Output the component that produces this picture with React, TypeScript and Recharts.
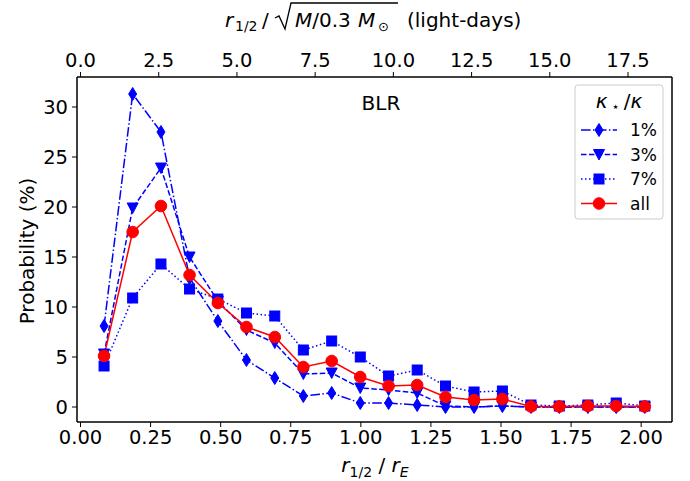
import React from 'react';
import { LineChart, Line, XAxis, YAxis, ReferenceLine } from 'recharts';

// r_1/2 / r_E bin centres
const rOverRE = [0.084, 0.186, 0.287, 0.389, 0.49, 0.592, 0.693, 0.795, 0.896, 0.998,
  1.099, 1.201, 1.302, 1.404, 1.505, 1.607, 1.708, 1.81, 1.911, 2.013];

// probability (%) per kappa_* / kappa
const kappa1 = [8.1, 31.3, 27.5, 12.9, 8.6, 4.7, 2.9, 1.1, 1.4, 0.4, 0.4, 0.2, 0.0, 0.0, 0.1, 0.0, 0.0, 0.0, 0.0, 0.0];
const kappa3 = [5.3, 19.9, 23.9, 15.0, 10.6, 7.7, 6.4, 3.3, 3.4, 1.9, 1.7, 1.4, 0.1, 0.0, 0.1, 0.0, 0.0, 0.0, 0.0, 0.0];
const kappa7 = [4.1, 10.9, 14.3, 11.8, 10.8, 9.4, 9.1, 5.7, 6.6, 5.0, 3.1, 3.7, 2.1, 1.5, 1.6, 0.2, 0.1, 0.2, 0.4, 0.1];
const kappaAll = [5.1, 17.5, 20.1, 13.2, 10.4, 8.0, 7.0, 4.0, 4.6, 3.0, 2.1, 2.2, 1.0, 0.7, 0.8, 0.05, 0.05, 0.1, 0.1, 0.05];

const seriesNames = ['1%', '3%', '7%', 'all'];
const bottomTicks = [0, 0.25, 0.5, 0.75, 1.0, 1.25, 1.5, 1.75, 2.0];
const topTicks = [0, 2.5, 5, 7.5, 10, 12.5, 15, 17.5];
const yTicks = [0, 5, 10, 15, 20, 25, 30];

const LD_PER_RE = 8.96;
const X_MIN = -0.0125;
const X_MAX = 2.11;
const Y_MIN = -1.5;
const Y_MAX = 33.0;

const FONT = '"DejaVu Sans", sans-serif';
const BLUE = '#0000ff';
const RED = '#ff0000';

const data = rOverRE.map((x, i) => ({
  x,
  k1: kappa1[i],
  k3: kappa3[i],
  k7: kappa7[i],
  all: kappaAll[i],
}));

const Diamond = ({ cx, cy }: { cx: number; cy: number }) => (
  <path d={`M${cx},${cy - 6.5} L${cx + 4},${cy} L${cx},${cy + 6.5} L${cx - 4},${cy} Z`} fill={BLUE} stroke={BLUE} strokeWidth={1} />
);
const TriDown = ({ cx, cy }: { cx: number; cy: number }) => (
  <path d={`M${cx - 5.5},${cy - 5} L${cx + 5.5},${cy - 5} L${cx},${cy + 5.5} Z`} fill={BLUE} stroke={BLUE} strokeWidth={1} />
);
const Square = ({ cx, cy }: { cx: number; cy: number }) => (
  <rect x={cx - 5} y={cy - 5} width={10} height={10} fill={BLUE} stroke={BLUE} strokeWidth={1} />
);
const Circle = ({ cx, cy }: { cx: number; cy: number }) => (
  <circle cx={cx} cy={cy} r={5.8} fill={RED} stroke={RED} strokeWidth={1} />
);

const markers = [Diamond, TriDown, Square, Circle];
const dashes = ['9.6 2.4 1.5 2.4', '5.5 2.4', '1.5 2.5', undefined];
const colors = [BLUE, BLUE, BLUE, RED];
const keys = ['k1', 'k3', 'k7', 'all'];

const tickStyle = { fill: '#000', fontSize: 19.5, fontFamily: FONT };

const LegendBox = () => (
  <g fontFamily={FONT}>
    <rect x={575} y={85} width={88} height={134} rx={3} fill="#fff" fillOpacity={0.8} stroke="#cccccc" />
    <text x={619} y={108} textAnchor="middle" fontSize={20}>
      <tspan fontStyle="italic">κ</tspan>
      <tspan fontSize={13} dy={3}> ⋆ </tspan>
      <tspan dy={-3}>/</tspan>
      <tspan fontStyle="italic">κ</tspan>
    </text>
    {seriesNames.map((name, i) => {
      const cy = 130 + i * 24.5;
      const M = markers[i];
      return (
        <g key={name}>
          <line x1={581} x2={617} y1={cy} y2={cy} stroke={colors[i]} strokeWidth={1.5} strokeDasharray={dashes[i]} />
          <M cx={599} cy={cy} />
          <text x={630} y={cy + 6} fontSize={17}>{name}</text>
        </g>
      );
    })}
  </g>
);

export default function App() {
  return (
    <div style={{ position: 'absolute', left: 0, top: 0, width: 690, height: 481, background: '#fff' }}>
      <LineChart width={690} height={481} data={data} margin={{ top: 0, right: 18, bottom: 0, left: 0 }}>
        <XAxis
          dataKey="x"
          type="number"
          domain={[X_MIN, X_MAX]}
          allowDataOverflow
          ticks={bottomTicks}
          tickFormatter={(v: number) => v.toFixed(2)}
          height={59}
          tick={tickStyle}
          tickSize={5}
          tickMargin={3}
          axisLine={{ stroke: '#000', strokeWidth: 1.5 }}
          tickLine={{ stroke: '#000' }}
        />
        <XAxis
          xAxisId="top"
          dataKey="x"
          orientation="top"
          type="number"
          domain={[X_MIN, X_MAX]}
          allowDataOverflow
          ticks={topTicks.map((t) => t / LD_PER_RE)}
          tickFormatter={(v: number) => (v * LD_PER_RE).toFixed(1)}
          height={77}
          tick={tickStyle}
          tickSize={5}
          tickMargin={5}
          axisLine={{ stroke: '#000', strokeWidth: 1.5 }}
          tickLine={{ stroke: '#000' }}
        />
        <YAxis
          type="number"
          domain={[Y_MIN, Y_MAX]}
          allowDataOverflow
          ticks={yTicks}
          width={77}
          tick={tickStyle}
          tickSize={5}
          tickMargin={4}
          axisLine={{ stroke: '#000', strokeWidth: 1.5 }}
          tickLine={{ stroke: '#000' }}
        />
        <ReferenceLine x={X_MAX} stroke="#000" strokeWidth={1.5} ifOverflow="extendDomain" />
        {keys.map((k, i) => {
          const M = markers[i];
          return (
            <Line
              key={k}
              dataKey={k}
              xAxisId={i === 0 ? 'top' : 0}
              name={seriesNames[i]}
              stroke={colors[i]}
              strokeWidth={1.5}
              strokeDasharray={dashes[i]}
              isAnimationActive={false}
              dot={(p: any) => <M key={`${k}-${p.index}`} cx={p.cx} cy={p.cy} />}
            />
          );
        })}
        <text x={381} y={110} textAnchor="middle" fontSize={20} fontFamily={FONT}>BLR</text>
        <text
          x={27}
          y={251}
          transform="rotate(-90 27 251)"
          textAnchor="middle"
          dominantBaseline="central"
          fontSize={20}
          fontFamily={FONT}
        >
          Probability (%)
        </text>
        <text x={375} y={472} textAnchor="middle" fontSize={20} fontFamily={FONT}>
          <tspan fontStyle="italic">r</tspan>
          <tspan fontSize={14} dy={5}>1/2</tspan>
          <tspan dy={-5}> / </tspan>
          <tspan fontStyle="italic">r</tspan>
          <tspan fontSize={14} dy={5} fontStyle="italic">E</tspan>
        </text>
        <g fontFamily={FONT} fontSize={20}>
          <text x={225} y={27} fontStyle="italic">r</text>
          <text x={235} y={31} fontSize={14}>1/2</text>
          <text x={262} y={27}>/</text>
          <path d="M275,18 L279,16 L285,29 L291,3 L398,3" fill="none" stroke="#000" strokeWidth={1.3} />
          <text x={295} y={27}>
            <tspan fontStyle="italic">M</tspan>
            <tspan>/0.3</tspan>
          </text>
          <text x={358} y={27} fontStyle="italic">M</text>
          <text x={378} y={31} fontSize={13}>⊙</text>
          <text x={407} y={27}>(light-days)</text>
        </g>
        <LegendBox />
      </LineChart>
    </div>
  );
}
